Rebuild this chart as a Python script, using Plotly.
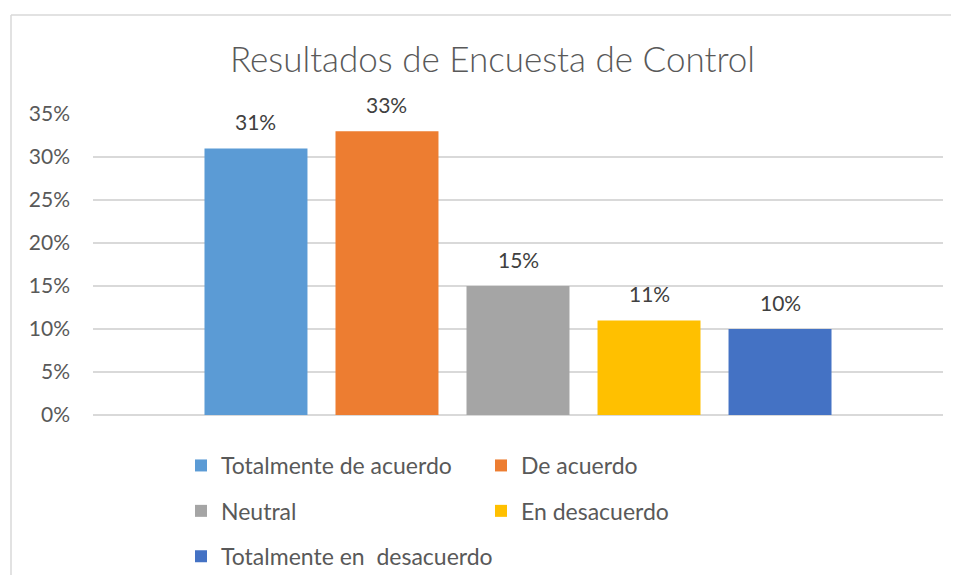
import plotly.graph_objects as go

series_names = ["Totalmente de acuerdo", "De acuerdo", "Neutral", "En desacuerdo", "Totalmente en  desacuerdo"]
series_values = [0.31, 0.33, 0.15, 0.11, 0.10]
series_colors = ["#5B9BD5", "#ED7D31", "#A5A5A5", "#FFC000", "#4472C4"]
legend_column = ["legend", "legend2", "legend", "legend2", "legend"]
tick_values = [0, 0.05, 0.10, 0.15, 0.20, 0.25, 0.30, 0.35]
title_text = "Resultados de Encuesta de Control"

FONT = "Lato"
OFF = 8  # page body margin
W, H = 959 - 2 * OFF, 583 - 2 * OFF
ML, MR, MT, MB = 93 - OFF, 8, 114 - OFF, H - (415 - OFF)

fig = go.Figure()
for name, val, col, lg in zip(series_names, series_values, series_colors, legend_column):
    fig.add_trace(go.Bar(
        x=[name], y=[val], name=name, marker_color=col, marker_line_width=0,
        legend=lg, legendgroup=name, hoverinfo="skip",
    ))
    fig.add_annotation(
        x=name, y=val, xref="x", yref="y", text=f"{round(val*100)}%",
        showarrow=False, yanchor="bottom", yshift=12,
        font=dict(family=FONT, size=21, color="#404040"),
    )

pw = W - ML - MR
ph = H - MT - MB

def px_x(p):
    return (p - OFF - ML) / pw

def px_y(p):
    return (H - MB - (p - OFF)) / ph

border = dict(color="#D9D9D9", width=1.5)
fig.add_shape(type="line", xref="paper", yref="paper",
              x0=px_x(11), x1=px_x(1000), y0=px_y(15), y1=px_y(15), line=border, layer="below")
fig.add_shape(type="line", xref="paper", yref="paper",
              x0=px_x(11), x1=px_x(11), y0=px_y(15), y1=px_y(700), line=border, layer="below")

fig.update_layout(
    width=W, height=H,
    margin=dict(l=ML, r=MR, t=MT, b=MB, autoexpand=False),
    paper_bgcolor="white", plot_bgcolor="white",
    barmode="overlay", bargap=0.214,
    showlegend=True,
    title=dict(text=title_text, x=(492.5 - OFF) / W, xanchor="center", y=1 - (60 - OFF) / H, yanchor="middle",
               font=dict(family=FONT, size=35, color="#595959", weight=300)),
    xaxis=dict(range=[-1.244, 5.244], showticklabels=False, showgrid=False, zeroline=False,
               showline=False, ticks=""),
    yaxis=dict(range=[0, 0.35], tickvals=tick_values, tickformat=".0%",
               showgrid=True, gridcolor="#D9D9D9", gridwidth=1.5,
               zeroline=True, zerolinecolor="#D9D9D9", zerolinewidth=1.5,
               showline=False, ticks="", ticklabelstandoff=22,
               tickfont=dict(family=FONT, size=21, color="#595959")),
    legend=dict(x=px_x(181), xanchor="left", y=px_y(444), yanchor="top", orientation="v",
                tracegroupgap=12.5, bgcolor="rgba(0,0,0,0)",
                font=dict(family=FONT, size=23, color="#595959")),
    legend2=dict(x=px_x(481), xanchor="left", y=px_y(444), yanchor="top", orientation="v",
                 tracegroupgap=12.5, bgcolor="rgba(0,0,0,0)",
                 font=dict(family=FONT, size=23, color="#595959")),
)

fig.write_html("out.html")
